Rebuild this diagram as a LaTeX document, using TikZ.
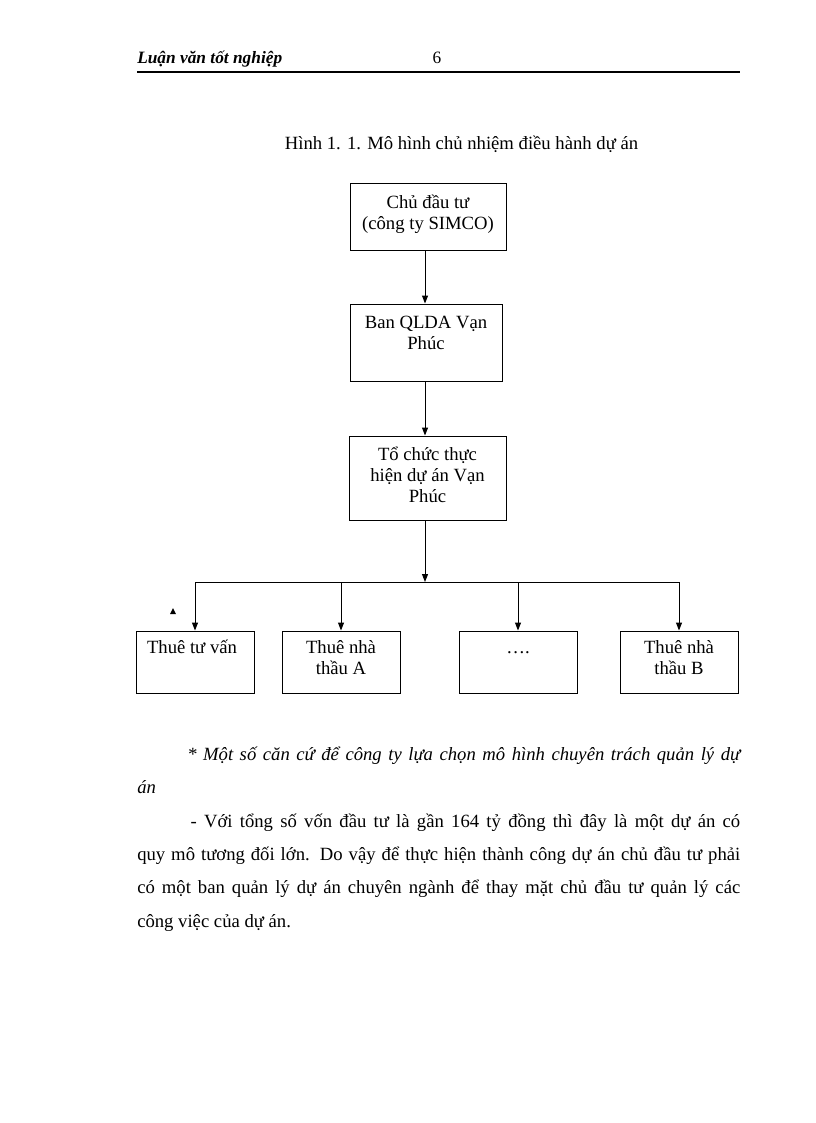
\documentclass[tikz,border=0pt]{standalone}
\usepackage{fontspec}
\setmainfont{Liberation Serif}
\usepackage{tikz}
\usetikzlibrary{arrows.meta,calc}
\tikzset{
	hop/.style={draw, line width=0.75pt, inner sep=0pt},
	chu/.style={inner sep=0pt, align=center, font=\fontsize{14}{15.75}\selectfont},
	doan/.style={inner sep=0pt, text width=452.25pt, align=justify, font=\fontsize{14}{25}\selectfont},
	mui/.style={-{Triangle[length=6pt,width=4.5pt]}, line width=0.75pt}
}

\begin{document}
\begin{tikzpicture}[x=0.75pt, y=-0.75pt]
		%%%%% START %%%%%
		\useasboundingbox (0,0) rectangle (816,1123);
		
		% dau trang
		\node[anchor=base west, inner sep=0pt, font=\fontsize{13}{15}\selectfont\bfseries\itshape] (tieude) at (137,64) {Luận văn tốt nghiệp};
		\node[anchor=base, inner sep=0pt, font=\fontsize{13}{15}\selectfont] (trang) at (437,64) {6};
		\draw[line width=1.5pt] (137,72) -- (740,72);
		
		\node[chu, anchor=base] (hinh) at (461.5,150) {Hình 1. 1. Mô hình chủ nhiệm điều hành dự án};
		
		% cac hop (anchor=base lay dong cuoi)
		\node[hop, minimum width=117pt, minimum height=49.5pt] (cdt) at (428,217) {};
		\node[chu, anchor=base] (cdt-t) at (428,229) {Chủ đầu tư\\(công ty SIMCO)};
		
		\node[hop, minimum width=114pt, minimum height=57.75pt] (ban) at (426,342.5) {};
		\node[chu, anchor=base] (ban-t) at (426,349) {Ban QLDA Vạn\\Phúc};
		
		\node[hop, minimum width=117.75pt, minimum height=63pt] (tc) at (427.5,478) {};
		\node[chu, anchor=base] (tc-t) at (427.5,502) {Tổ chức thực\\hiện dự án Vạn\\Phúc};
		
		\node[hop, minimum width=88.5pt, minimum height=46.5pt] (tv) at (195,662) {};
		\node[chu, anchor=base] (tv-t) at (192,653) {Thuê tư vấn};
		\node[hop, minimum width=88.5pt, minimum height=46.5pt] (nta) at (341,662) {};
		\node[chu, anchor=base] (nta-t) at (341,674) {Thuê nhà\\thầu A};
		\node[hop, minimum width=88.5pt, minimum height=46.5pt] (khac) at (518,662) {};
		\node[chu, anchor=base] (khac-t) at (518,653) {….};
		\node[hop, minimum width=88.5pt, minimum height=46.5pt] (ntb) at (679,662) {};
		\node[chu, anchor=base] (ntb-t) at (679,674) {Thuê nhà\\thầu B};
		
		% mui ten
		\coordinate (truc) at (425,0);
		\coordinate (nga) at (425,582);
		\draw[mui] (truc |- cdt.south) -- (truc |- ban.north);
		\draw[mui] (truc |- ban.south) -- (truc |- tc.north);
		\draw[mui] (truc |- tc.south) -- (nga);
		\draw[line width=0.75pt] (tv.north |- nga) -- (ntb.north |- nga);
		\draw[mui] (tv.north |- nga) -- (tv.north);
		\draw[mui] (nta.north |- nga) -- (nta.north);
		\draw[mui] (khac.north |- nga) -- (khac.north);
		\draw[mui] (ntb.north |- nga) -- (ntb.north);
		
		\fill (170,614) -- (176,614) -- (173,608) -- cycle;
		
		% doan van
		\node[doan, anchor=base west] (cancu) at (137,760) {\hyphenpenalty=10000\hspace*{37.5pt}\itshape * Một số căn cứ để công ty lựa chọn mô hình chuyên trách quản lý dự\linebreak án};
		\node[doan, anchor=base west] (von) at (137,827) {\hyphenpenalty=10000\hspace*{40pt}- Với tổng số vốn đầu tư là gần 164 tỷ đồng thì đây là một dự án có\linebreak quy mô tương đối lớn. Do vậy để thực hiện thành công dự án chủ đầu tư phải\linebreak có một ban quản lý dự án chuyên ngành để thay mặt chủ đầu tư quản lý các\linebreak công việc của dự án.};
		
		%%%%% END %%%%%
\end{tikzpicture}
\end{document}
